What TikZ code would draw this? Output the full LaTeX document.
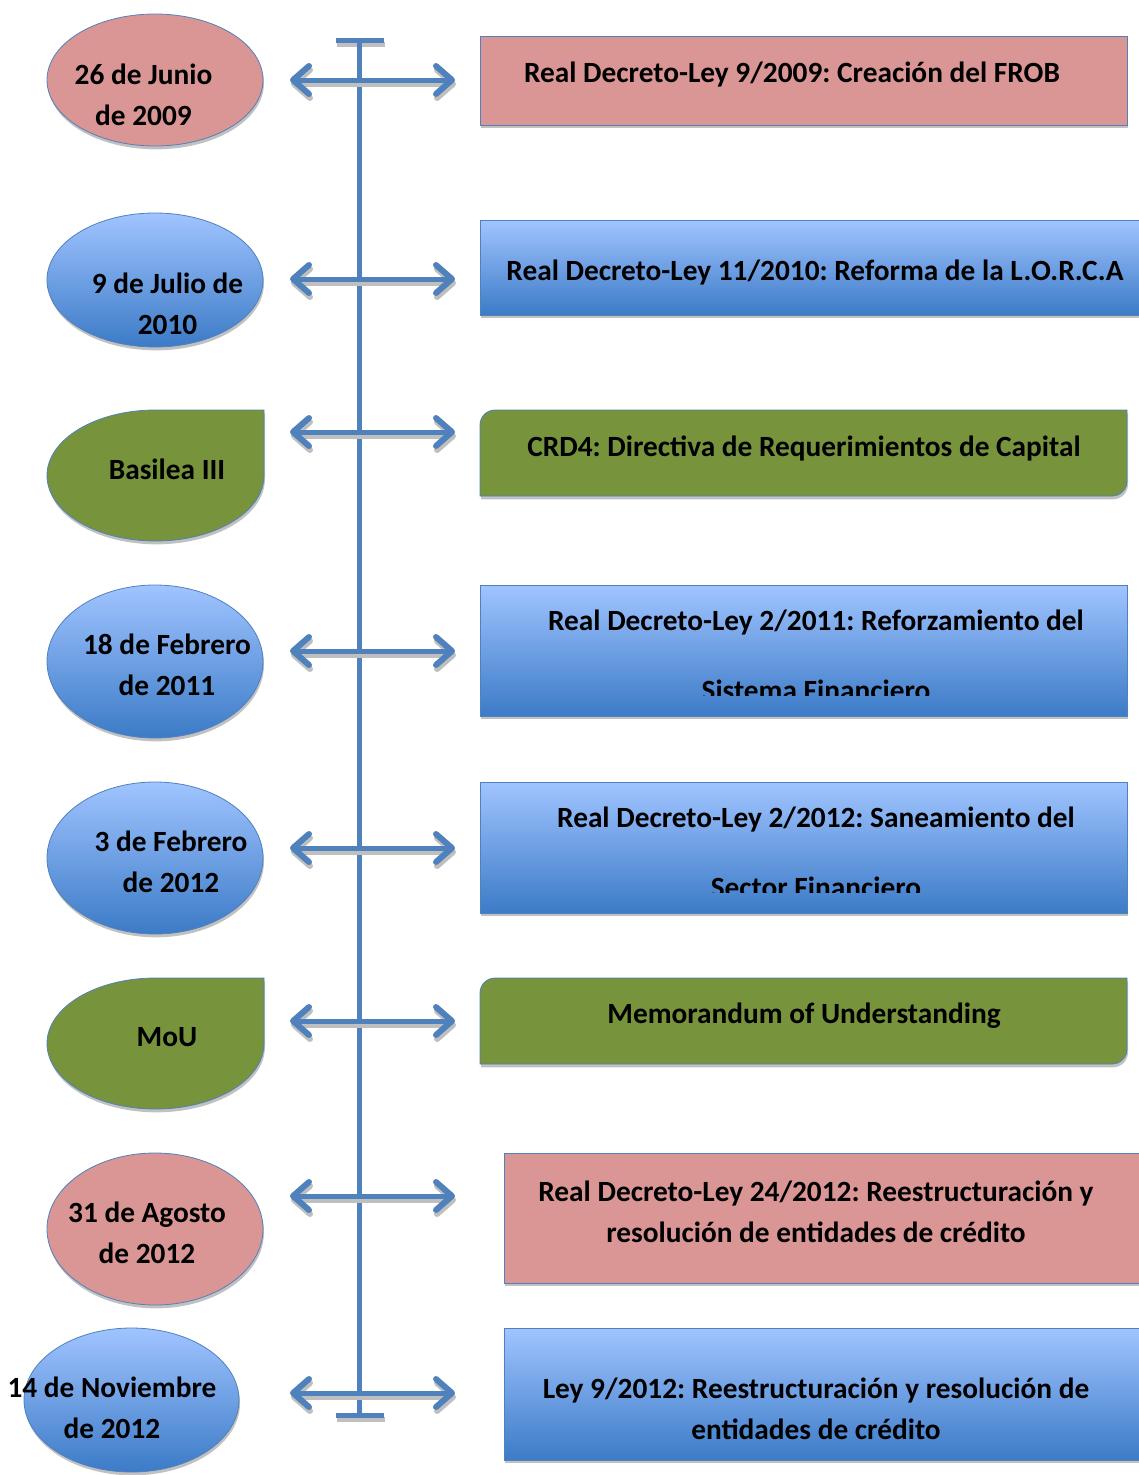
\documentclass[tikz,border=0pt]{standalone}
\usepackage{fontspec}
\setmainfont{Carlito}
\usetikzlibrary{arrows.meta,shapes.geometric,shadows}
\frenchspacing

\definecolor{lineblue}{RGB}{79,129,189}
\definecolor{pinkfill}{RGB}{217,150,148}
\definecolor{greenfill}{RGB}{119,147,60}
\definecolor{bluetop}{RGB}{160,196,255}
\definecolor{bluebot}{RGB}{60,123,199}

\tikzset{
  bar/.style={draw=lineblue,line width=3.75pt},
  barshadow/.style={draw=black!25,line width=3.75pt,transform canvas={shift={(0.75pt,-3pt)}}},
  dbl/.style={{Straight Barb[length=12pt,width=21pt,round,line width=4.5pt]}-{Straight Barb[length=12pt,width=21pt,round,line width=4.5pt]}},
  softshadow/.style={drop shadow={shadow xshift=0.75pt,shadow yshift=-2.5pt,fill=black!30,opacity=0.8}},
  dateoval/.style={ellipse,draw=lineblue,line width=0.6pt,inner sep=0pt,minimum width=162pt,softshadow},
  eventbox/.style={rectangle,draw=lineblue,line width=0.6pt,inner sep=0pt,softshadow},
  leaf/.style={draw=lineblue,line width=0.6pt,fill=greenfill,softshadow},
  bluefill/.style={top color=bluetop,bottom color=bluebot},
  lbl/.style={font=\fontsize{22}{30.75}\selectfont\bfseries,align=center,inner sep=0pt}
}

\begin{document}
\begin{tikzpicture}[x=0.75pt,y=0.75pt,yscale=-1,xscale=1]
\useasboundingbox (0,0) rectangle (1139,1475);

% timeline
\coordinate (top) at (359,40);
\coordinate (bot) at (359,1415);
\coordinate (topL) at (336,40);
\coordinate (topR) at (384,40);
\coordinate (botL) at (336,1415);
\coordinate (botR) at (384,1415);
\draw[barshadow] (topL) -- (topR);
\draw[barshadow] (botL) -- (botR);
\draw[bar] (top) -- (bot);
\draw[bar] (topL) -- (topR);
\draw[bar] (botL) -- (botR);

% arrows
\coordinate (aL1) at (290,80);   \coordinate (aR1) at (455,80);
\coordinate (aL2) at (290,279);  \coordinate (aR2) at (455,279);
\coordinate (aL3) at (290,432);  \coordinate (aR3) at (455,432);
\coordinate (aL4) at (290,651);  \coordinate (aR4) at (455,651);
\coordinate (aL5) at (290,848);  \coordinate (aR5) at (455,848);
\coordinate (aL6) at (290,1021); \coordinate (aR6) at (455,1021);
\coordinate (aL7) at (290,1196); \coordinate (aR7) at (455,1196);
\coordinate (aL8) at (290,1393); \coordinate (aR8) at (455,1393);
\draw[barshadow,dbl] (aL1) -- (aR1);
\draw[barshadow,dbl] (aL2) -- (aR2);
\draw[barshadow,dbl] (aL3) -- (aR3);
\draw[barshadow,dbl] (aL4) -- (aR4);
\draw[barshadow,dbl] (aL5) -- (aR5);
\draw[barshadow,dbl] (aL6) -- (aR6);
\draw[barshadow,dbl] (aL7) -- (aR7);
\draw[barshadow,dbl] (aL8) -- (aR8);
\draw[bar,dbl] (aL1) -- (aR1);
\draw[bar,dbl] (aL2) -- (aR2);
\draw[bar,dbl] (aL3) -- (aR3);
\draw[bar,dbl] (aL4) -- (aR4);
\draw[bar,dbl] (aL5) -- (aR5);
\draw[bar,dbl] (aL6) -- (aR6);
\draw[bar,dbl] (aL7) -- (aR7);
\draw[bar,dbl] (aL8) -- (aR8);

% dates
\node[dateoval,fill=pinkfill,minimum height=99pt] (d2009) at (155,80) {};
\node[lbl] (d2009txt) at (143.5,95) {26 de Junio\\de 2009};
\node[dateoval,bluefill,minimum height=100.5pt] (d2010) at (155,280) {};
\node[lbl] (d2010txt) at (167.5,304) {9 de Julio de\\2010};
\draw[leaf] (264,410) -- (264,475.5) arc[start angle=0,end angle=270,x radius=108.5,y radius=65.5] -- cycle;
\node[lbl] (basilea) at (167,469.5) {Basilea III};
\node[dateoval,bluefill,minimum height=114.75pt] (d2011) at (155,661.5) {};
\node[lbl] (d2011txt) at (167,665) {18 de Febrero\\de 2011};
\node[dateoval,bluefill,minimum height=114pt] (d2012a) at (155,858) {};
\node[lbl] (d2012atxt) at (171,862) {3 de Febrero\\de 2012};
\draw[leaf] (264,978) -- (264,1043.5) arc[start angle=0,end angle=270,x radius=108.5,y radius=65.5] -- cycle;
\node[lbl] (mou) at (167,1037.5) {MoU};
\node[dateoval,fill=pinkfill,minimum height=114pt] (d2012b) at (155,1229) {};
\node[lbl] (d2012btxt) at (147,1233) {31 de Agosto\\de 2012};
\node[dateoval,bluefill,minimum width=161.25pt,minimum height=108pt] (d2012c) at (131.5,1400) {};
\node[lbl] (d2012ctxt) at (112,1408) {14 de Noviembre\\de 2012};

% events
\node[eventbox,fill=pinkfill,minimum width=485.25pt,minimum height=66.75pt] (frob) at (803.5,80.5) {};
\node[lbl] (frobtxt) at (792,75) {Real Decreto-Ley 9/2009: Creación del FROB};
\node[eventbox,bluefill,minimum width=495.75pt,minimum height=71.25pt] (lorca) at (810.5,267.5) {};
\node[lbl] (lorcatxt) at (815,273) {Real Decreto-Ley 11/2010: Reforma de la L.O.R.C.A};
\draw[leaf] (480,496) -- (480,425) .. controls (480,416.7) and (486.7,410) .. (495,410) -- (1127,410) -- (1127,481) .. controls (1127,489.3) and (1120.3,496) .. (1112,496) -- cycle;
\node[lbl] (crd) at (804,448) {CRD4: Directiva de Requerimientos de Capital};
\node[eventbox,bluefill,minimum width=485.25pt,minimum height=98.25pt] (rdl11) at (803.5,650.5) {};
\begin{scope}
\clip (480,585) rectangle (1127,695);
\node[lbl] (rdl11a) at (816,623) {Real Decreto-Ley 2/2011: Reforzamiento del};
\node[lbl] (rdl11b) at (816,690) {Sistema Financiero};
\end{scope}
\node[eventbox,bluefill,minimum width=485.25pt,minimum height=98.25pt] (rdl12) at (803.5,847.5) {};
\begin{scope}
\clip (480,782) rectangle (1127,892);
\node[lbl] (rdl12a) at (816,820) {Real Decreto-Ley 2/2012: Saneamiento del};
\node[lbl] (rdl12b) at (816,887) {Sector Financiero};
\end{scope}
\draw[leaf] (480,1064) -- (480,993) .. controls (480,984.7) and (486.7,978) .. (495,978) -- (1127,978) -- (1127,1049) .. controls (1127,1057.3) and (1120.3,1064) .. (1112,1064) -- cycle;
\node[lbl] (memo) at (804,1016) {Memorandum of Understanding};
\node[eventbox,fill=pinkfill,minimum width=477.75pt,minimum height=97.5pt] (rdl24) at (822.5,1218) {};
\node[lbl] (rdl24txt) at (816,1211.5) {Real Decreto-Ley 24/2012: Reestructuración y\\resolución de entidades de crédito};
\node[eventbox,bluefill,minimum width=477.75pt,minimum height=99pt] (ley9) at (822.5,1394) {};
\node[lbl] (ley9txt) at (816,1408.5) {Ley 9/2012: Reestructuración y resolución de\\entidades de crédito};
\end{tikzpicture}
\end{document}
